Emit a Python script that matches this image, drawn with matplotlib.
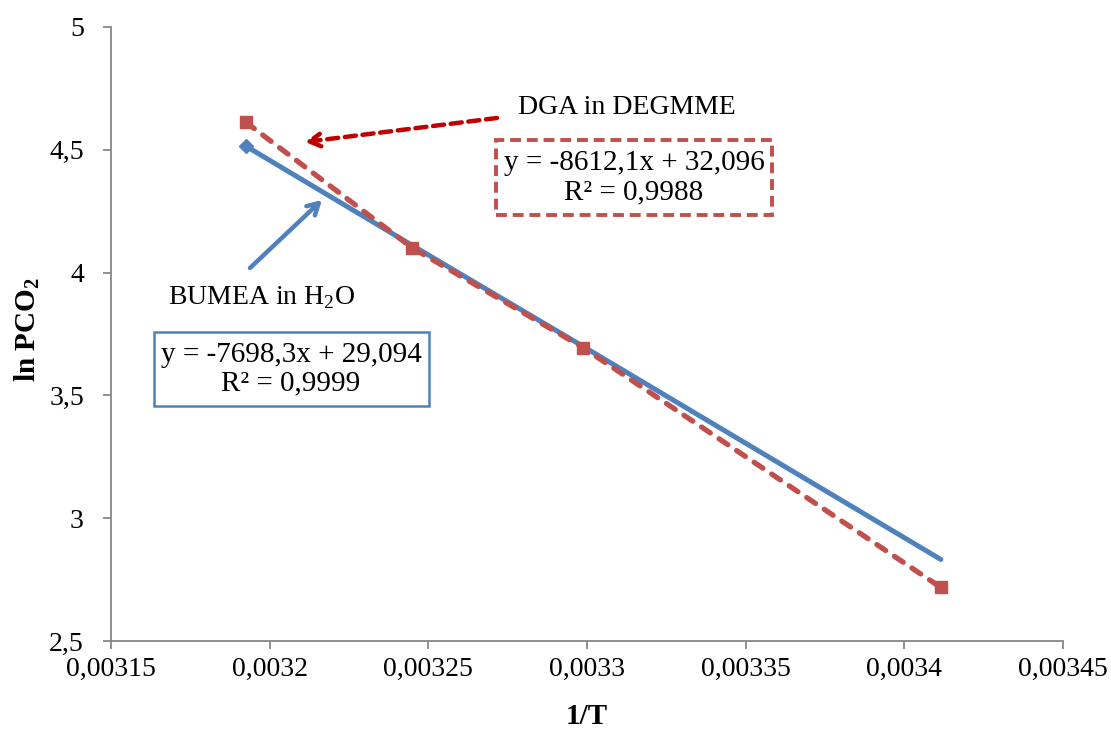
import matplotlib
matplotlib.use('Agg')
import matplotlib.pyplot as plt
from matplotlib.patches import Rectangle

# 1/T values (same for both systems)
inv_T = [0.0031925, 0.003245, 0.0032987, 0.0034115]

# ln PCO2 for each system
bumea_h2o = [4.515, 4.11, 3.70, 2.832]
dga_degmme = [4.612, 4.10, 3.695, 2.718]

x_ticks = [0.00315, 0.0032, 0.00325, 0.0033, 0.00335, 0.0034, 0.00345]
x_tick_labels = ['0,00315', '0,0032', '0,00325', '0,0033', '0,00335', '0,0034', '0,00345']
y_ticks = [2.5, 3, 3.5, 4, 4.5, 5]
y_tick_labels = ['2,5', '3', '3,5', '4', '4,5', '5']

blue = '#4F81BD'
red = '#C0504D'
dark_red = '#C00000'
grey = '#868686'

W, H = 1111, 729

plt.rcParams['font.family'] = ['Liberation Serif', 'DejaVu Serif']
plt.rcParams['mathtext.fontset'] = 'custom'
plt.rcParams['mathtext.rm'] = 'Liberation Serif'
plt.rcParams['mathtext.bf'] = 'Liberation Serif:bold'


def fpx(x, y):
    # pixel position (from top-left) -> figure fraction
    return x / W, 1 - y / H


fig = plt.figure(figsize=(W / 100, H / 100), dpi=100)
ax = fig.add_axes([111 / W, 1 - 641 / H, 952 / W, 614 / H])

ax.plot(inv_T, bumea_h2o, color=blue, lw=3.6, solid_capstyle='round',
        marker='D', markevery=[0], ms=7.5, zorder=3)
ax.plot(inv_T, dga_degmme, color=red, lw=3.8, ls=(0, (2.0, 2.0)),
        dash_capstyle='round', marker='s', ms=8.5, zorder=4)

ax.set_xlim(0.00315, 0.00345)
ax.set_ylim(2.5, 5)
ax.set_xticks(x_ticks)
ax.set_xticklabels(x_tick_labels)
ax.set_yticks(y_ticks)
ax.set_yticklabels(y_tick_labels)

for side in ['top', 'right']:
    ax.spines[side].set_visible(False)
for side in ['left', 'bottom']:
    ax.spines[side].set_color(grey)
    ax.spines[side].set_linewidth(1.3)
ax.tick_params(axis='both', direction='out', length=5.5, width=1.3, color=grey,
               labelsize=20)
ax.tick_params(axis='x', pad=6)
ax.tick_params(axis='y', pad=14)

fig.text(*fpx(587, 716), '1/T', fontsize=21, fontweight='bold',
         ha='center', va='center')
fig.text(*fpx(27, 330), 'ln PCO$_\\mathbf{2}$', fontsize=21, fontweight='bold',
         rotation=90, ha='center', va='center')

# series labels with arrows
fig.text(*fpx(627, 108), 'DGA in DEGMME', fontsize=20, ha='center', va='center')
ax.annotate('', xy=fpx(305, 142), xytext=fpx(497, 118),
            xycoords='figure fraction', textcoords='figure fraction',
            arrowprops=dict(arrowstyle='->,head_length=0.8,head_width=0.45',
                            color=dark_red, lw=3.2, ls=(0, (2.5, 1.5)),
                            shrinkA=0, shrinkB=0))
fig.text(*fpx(262, 298), 'BUMEA in H$_2$O', fontsize=20, ha='center', va='center')
ax.annotate('', xy=fpx(322, 200), xytext=fpx(250, 268),
            xycoords='figure fraction', textcoords='figure fraction',
            arrowprops=dict(arrowstyle='->,head_length=0.8,head_width=0.45',
                            color=blue, lw=3.2, shrinkA=0, shrinkB=0))

# trendline equation boxes
x0, y0 = fpx(496, 215)
x1, y1 = fpx(772, 140)
fig.patches.append(Rectangle((x0, y0), x1 - x0, y1 - y0, transform=fig.transFigure,
                             fill=False, ec=red, lw=2.8, ls=(0, (2.8, 1.5))))
fig.text(*fpx(634, 178), 'y = -8612,1x + 32,096\nR² = 0,9988', fontsize=21,
         ha='center', va='center', linespacing=1.15)

x0, y0 = fpx(154, 406)
x1, y1 = fpx(429, 332)
fig.patches.append(Rectangle((x0, y0), x1 - x0, y1 - y0, transform=fig.transFigure,
                             fill=False, ec=blue, lw=1.8))
fig.text(*fpx(291, 369), 'y = -7698,3x + 29,094\nR² = 0,9999', fontsize=21,
         ha='center', va='center', linespacing=1.15)

fig.savefig('out.png', dpi=100)
